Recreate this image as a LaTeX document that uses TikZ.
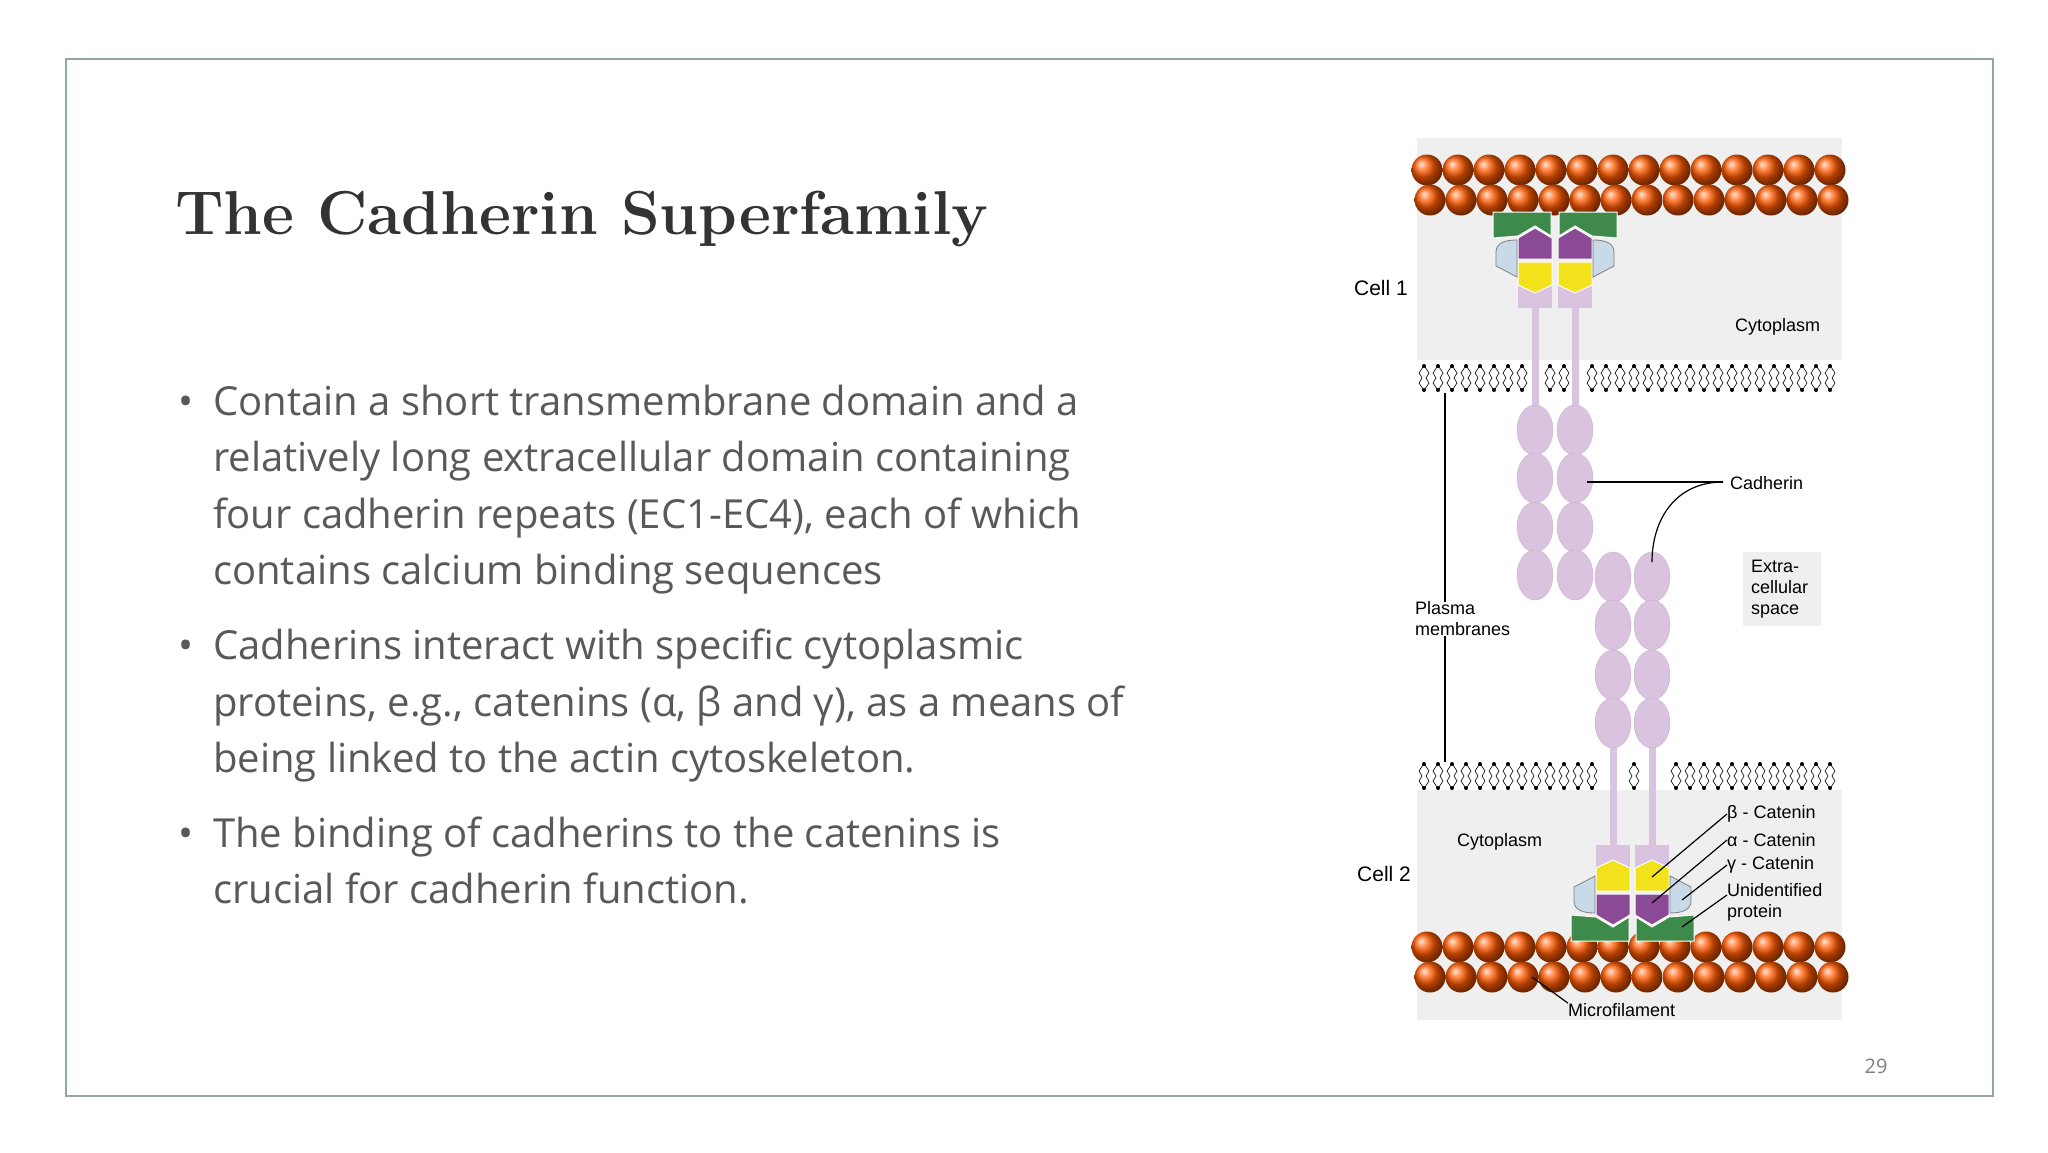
\documentclass[tikz,border=0pt]{standalone}
\usepackage{fontspec}
\newfontfamily\bodyf{Open Sans}
\newfontfamily\labf{Liberation Sans}
\usetikzlibrary{shapes.geometric}
\definecolor{frame}{HTML}{8FA8A0}
\definecolor{txt}{HTML}{595959}
\definecolor{cellg}{HTML}{EFEFEF}
\definecolor{lil}{HTML}{D9C3DE}
\definecolor{lilb}{HTML}{C9AFCF}
\definecolor{grn}{HTML}{3E8A4A}
\definecolor{pur}{HTML}{8A4A96}
\definecolor{yel}{HTML}{F2E21C}
\definecolor{lblue}{HTML}{C8DAE8}
\tikzset{
 bline/.style={anchor=base west,inner sep=0,text=txt,font=\bodyf\fontsize{40}{48}\selectfont},
 lab/.style={inner sep=0,font=\labf\fontsize{18}{21}\selectfont},
 lead/.style={draw=black,line width=1.2pt},
 bead/.style={ellipse,draw=lilb,fill=lil,minimum width=36pt,minimum height=50pt,inner sep=0},
 actin/.style={circle,shading=ball,ball color={orange!70!red},minimum size=31pt,inner sep=0}
}
\newcommand{\catunit}{%
 \fill[lil] (-17,283) rectangle (17,308);
 \filldraw[fill=yel,draw=white,line width=1pt] (-17,262)--(17,262)--(17,285)--(0,293)--(-17,285)--cycle;
 \filldraw[fill=pur,draw=white,line width=1pt] (-17,259)--(-17,238)--(0,228)--(17,238)--(17,259)--cycle;
 \filldraw[fill=grn,draw=white,line width=1pt] (-42,212)--(16,212)--(16,236)--(0,226)--(-17,236)--(-42,238)--cycle;
 \filldraw[fill=lblue,draw=gray,line width=0.8pt] (-18,240)--(-18,277)--(-39,266)--(-39,252) .. controls (-39,243) and (-30,240) .. (-18,240)--cycle;
}
\newcommand{\lipid}[2]{%
 \fill (#1,#2+3) circle (2pt);
 \fill (#1,#2+27) circle (2pt);
 \draw[line width=0.6pt] (#1-1,#2+4)--(#1-5,#2+10)--(#1-2,#2+15)--(#1-5,#2+20)--(#1-1,#2+26);
 \draw[line width=0.6pt] (#1+1,#2+4)--(#1+5,#2+10)--(#1+2,#2+15)--(#1+5,#2+20)--(#1+1,#2+26);
}
\begin{document}
\begin{tikzpicture}[x=1pt,y=-1pt]
\useasboundingbox (0,0) rectangle (2048,1152);
\fill[white] (0,0) rectangle (2048,1152);
\draw[frame,line width=1.5pt] (66,59) rectangle (1993,1096);
\node[anchor=base west,inner sep=0,text=black!80,font=\bfseries\fontsize{62}{70}\selectfont] (title) at (175,234) {The Cadherin Superfamily};
% bullets
\node[bline] (d1) at (178,415) {•};
\node[bline] (d2) at (178,659) {•};
\node[bline] (d3) at (178,847) {•};
\node[bline] (l1) at (213,415) {Contain a short transmembrane domain and a};
\node[bline] (l2) at (213,471) {relatively long extracellular domain containing};
\node[bline] (l3) at (213,528) {four cadherin repeats (EC1-EC4), each of which};
\node[bline] (l4) at (213,584) {contains calcium binding sequences};
\node[bline] (l5) at (213,659) {Cadherins interact with specific cytoplasmic};
\node[bline] (l6) at (213,716) {proteins, e.g., catenins (α, β and γ), as a means of};
\node[bline] (l7) at (213,772) {being linked to the actin cytoskeleton.};
\node[bline] (l8) at (213,847) {The binding of cadherins to the catenins is};
\node[bline] (l9) at (213,903) {crucial for cadherin function.};
\node[anchor=base,inner sep=0,text=gray,font=\bodyf\fontsize{20}{24}\selectfont] (pg) at (1876,1073) {29};
% cells
\fill[cellg] (1417,138) rectangle (1842,360);
\fill[cellg] (1417,790) rectangle (1842,1020);
% membranes
\foreach \x in {1424,1438,...,1838}{
 \pgfmathtruncatemacro\ok{(abs(\x-1536)>11)&&(abs(\x-1576)>11)}
 \ifnum\ok=1 \lipid{\x}{363}\fi
 \pgfmathtruncatemacro\okb{(abs(\x-1613)>11)&&(abs(\x-1652)>11)}
 \ifnum\okb=1 \lipid{\x}{761}\fi
}
% stems
\fill[lil] (1531.5,300) rectangle (1538.5,420);
\fill[lil] (1571.5,300) rectangle (1578.5,420);
\fill[lil] (1609.5,730) rectangle (1616.5,850);
\fill[lil] (1648.5,730) rectangle (1655.5,850);
% beads
\foreach \y [count=\i] in {430,478,527,575}{
 \node[bead] (ta\i) at (1535,\y) {};
 \node[bead] (tb\i) at (1575,\y) {};
}
\foreach \y [count=\i] in {577,625,675,723}{
 \node[bead] (ba\i) at (1613,\y) {};
 \node[bead] (bb\i) at (1652,\y) {};
}
% actin
\foreach \i in {0,...,13}{
 \node[actin] (at\i) at (1427+31*\i,170) {};
 \node[actin] (ab\i) at (1430+31*\i,200) {};
 \node[actin] (ct\i) at (1427+31*\i,947) {};
 \node[actin] (cb\i) at (1430+31*\i,977) {};
}
% catenin complexes
\begin{scope}[shift={(1535,0)}]\catunit\end{scope}
\begin{scope}[shift={(1575,0)},xscale=-1]\catunit\end{scope}
\begin{scope}[shift={(1613,1153)},yscale=-1]\catunit\end{scope}
\begin{scope}[shift={(1652,1153)},xscale=-1,yscale=-1]\catunit\end{scope}
% labels
\node[lab,anchor=east,font=\labf\fontsize{21}{24}\selectfont] (c1) at (1408,288) {Cell 1};
\node[lab,anchor=center,font=\labf\fontsize{21}{24}\selectfont] (c2) at (1384,874) {Cell 2};
\node[lab,anchor=west] (cy1) at (1735,327) {Cytoplasm};
\node[lab,anchor=west] (cy2) at (1457,842) {Cytoplasm};
\node[lab,anchor=west] (cad) at (1730,483) {Cadherin};
\node[lab,anchor=north west,fill=cellg,inner sep=8pt,align=left,text width=62pt] (ecs) at (1743,552) {Extra-\\cellular\\space};
\node[lab,anchor=west,align=left] (pm) at (1415,619) {Plasma\\membranes};
\node[lab,anchor=west] (bc) at (1727,814) {β - Catenin};
\node[lab,anchor=west] (ac) at (1727,840) {α - Catenin};
\node[lab,anchor=west] (gc) at (1727,865) {γ - Catenin};
\node[lab,anchor=west,align=left] (up) at (1727,902) {Unidentified\\protein};
\node[lab,anchor=west] (mf) at (1568,1010) {Microfilament};
\coordinate (cadj) at (1723,482);
\coordinate (pmtop) at (1445,393);
\coordinate (pmbot) at (1445,762);
\coordinate (bcp) at (1652,877);
\coordinate (acp) at (1652,903);
\coordinate (gcp) at (1682,900);
\coordinate (upp) at (1682,927);
\coordinate (mfp) at (1532,977);
\draw[lead] (1587,482) -- (cadj);
\draw[lead] (cadj) .. controls (1675,482) and (1652,520) .. (1652,562);
\draw[lead] (pmtop) -- (pm.north west -| pmtop);
\draw[lead] (pm.south west -| pmbot) -- (pmbot);
\draw[lead] (bc.west) -- (bcp);
\draw[lead] (ac.west) -- (acp);
\draw[lead] (gc.west) -- (gcp);
\draw[lead] (up.west |- 895,895) -- (upp);
\draw[lead] (mfp) -- (mf.north west);
\end{tikzpicture}
\end{document}
